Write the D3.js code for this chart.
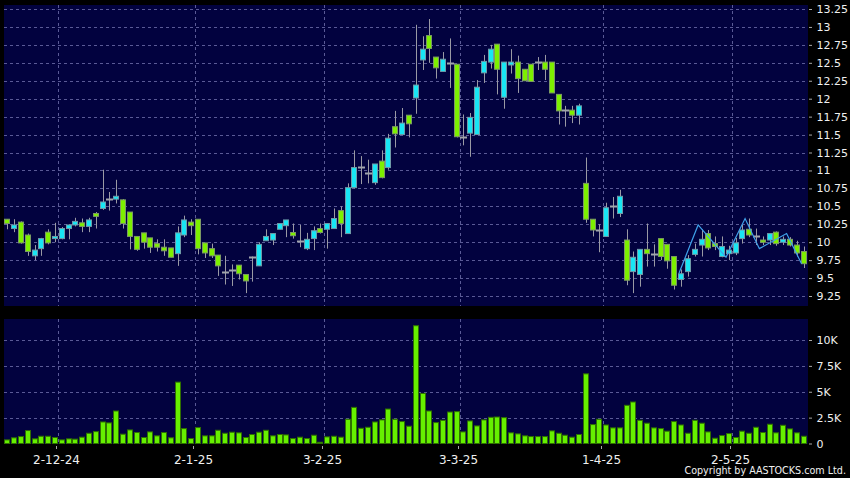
<!DOCTYPE html>
<html><head><meta charset="utf-8">
<script src="https://cdn.jsdelivr.net/npm/d3@7"></script>
<style>
html,body{margin:0;padding:0;background:#000;}
svg{display:block;}
text{font-family:"DejaVu Sans",Verdana,sans-serif;fill:#f0f0f0;}
</style></head>
<body>
<svg id="chart" width="850" height="478"></svg>
<script>
// ---- data ----
const dates = [
 "2024-11-20","2024-11-21","2024-11-22","2024-11-25","2024-11-26","2024-11-27","2024-11-28","2024-11-29",
 "2024-12-02","2024-12-03","2024-12-04","2024-12-05","2024-12-06","2024-12-09","2024-12-10","2024-12-11","2024-12-12","2024-12-13",
 "2024-12-16","2024-12-17","2024-12-18","2024-12-19","2024-12-20","2024-12-23","2024-12-24","2024-12-27","2024-12-30","2024-12-31",
 "2025-01-02","2025-01-03","2025-01-06","2025-01-07","2025-01-08","2025-01-09","2025-01-10","2025-01-13","2025-01-14","2025-01-15",
 "2025-01-16","2025-01-17","2025-01-20","2025-01-21","2025-01-22","2025-01-23","2025-01-24","2025-01-27","2025-01-28",
 "2025-02-03","2025-02-04","2025-02-05","2025-02-06","2025-02-07","2025-02-10","2025-02-11","2025-02-12","2025-02-13","2025-02-14",
 "2025-02-17","2025-02-18","2025-02-19","2025-02-20","2025-02-21","2025-02-24","2025-02-25","2025-02-26","2025-02-27","2025-02-28",
 "2025-03-03","2025-03-04","2025-03-05","2025-03-06","2025-03-07","2025-03-10","2025-03-11","2025-03-12","2025-03-13","2025-03-14",
 "2025-03-17","2025-03-18","2025-03-19","2025-03-20","2025-03-21","2025-03-24","2025-03-25","2025-03-26","2025-03-27","2025-03-28","2025-03-31",
 "2025-04-01","2025-04-02","2025-04-03","2025-04-07","2025-04-08","2025-04-09","2025-04-10","2025-04-11","2025-04-14","2025-04-15",
 "2025-04-16","2025-04-17","2025-04-22","2025-04-23","2025-04-24","2025-04-25","2025-04-28","2025-04-29","2025-04-30",
 "2025-05-02","2025-05-06","2025-05-07","2025-05-08","2025-05-09","2025-05-12","2025-05-13","2025-05-14","2025-05-15","2025-05-16","2025-05-19"
];
const open = [
 10.32,10.19,10.28,10.10,9.81,9.91,10.14,10.05,10.05,10.19,10.24,10.27,10.22,10.40,10.47,10.60,10.60,10.59,10.42,10.08,
 10.13,10.06,9.98,9.93,9.92,9.84,10.10,10.28,10.32,9.99,9.91,9.82,9.59,9.61,9.68,9.55,9.80,9.67,10.02,10.03,
 10.18,10.23,10.135,10.02,9.91,10.05,10.19,10.18,10.19,10.44,10.12,10.76,11.05,10.97,10.83,11.13,11.04,11.61,11.50,11.77,
 12.01,12.54,12.88,12.58,12.38,12.50,12.48,11.47,11.52,11.50,12.36,12.51,12.76,12.02,12.47,12.51,12.41,12.48,12.51,12.51,
 12.51,12.06,11.84,11.84,11.77,10.82,10.32,10.17,10.08,10.50,10.40,10.03,9.59,9.55,9.90,9.84,10.05,9.97,9.80,9.48,
 9.59,9.83,9.96,10.12,9.98,9.80,9.84,9.85,10.05,10.18,10.09,10.03,10.03,10.14,10.00,10.04,9.96,9.87
];
const high = [
 10.32,10.32,10.29,10.12,9.96,10.06,10.18,10.27,10.21,10.25,10.34,10.33,10.34,10.42,11.01,10.70,10.87,10.60,10.42,10.08,
 10.13,10.06,10.04,10.04,9.92,10.22,10.37,10.32,10.32,9.99,9.98,9.82,9.81,9.69,9.68,9.55,9.80,10.00,10.18,10.12,
 10.26,10.31,10.26,10.24,10.13,10.22,10.26,10.26,10.47,10.50,10.82,11.28,11.20,11.15,11.09,11.28,11.51,11.83,11.87,11.77,
 13.03,12.87,13.11,12.58,12.65,12.84,12.48,11.78,11.80,12.26,12.61,12.75,12.76,12.51,12.69,12.60,12.41,12.48,12.58,12.61,
 12.51,12.06,11.90,11.90,11.93,11.18,10.32,10.25,10.55,10.63,10.73,10.18,9.87,9.90,10.26,9.97,10.05,9.97,9.80,9.62,
 9.82,9.98,10.18,10.17,10.08,10.08,9.95,10.06,10.24,10.33,10.19,10.08,10.12,10.15,10.08,10.07,10.02,9.94
];
const low = [
 10.18,10.14,9.98,9.81,9.75,9.81,9.97,10.00,10.04,10.04,10.22,10.14,10.14,10.19,10.45,10.44,10.54,10.19,9.90,9.88,
 9.91,9.85,9.87,9.81,9.79,9.67,10.07,10.10,9.83,9.78,9.78,9.53,9.41,9.39,9.48,9.29,9.45,9.67,10.02,9.96,
 10.18,10.07,10.05,9.93,9.89,9.89,10.12,9.91,10.19,10.07,10.12,10.75,10.81,10.82,10.80,10.89,11.01,11.32,11.50,11.46,
 11.79,12.40,12.50,12.28,12.38,12.15,11.46,11.35,11.19,11.50,12.22,12.42,12.06,11.86,12.35,12.08,12.25,12.24,12.40,12.26,
 12.08,11.64,11.61,11.66,11.64,10.27,10.08,9.86,10.08,10.33,10.35,9.40,9.29,9.38,9.66,9.66,9.75,9.63,9.34,9.38,
 9.52,9.80,9.80,9.89,9.89,9.79,9.75,9.82,9.98,10.07,9.96,9.96,9.96,9.95,9.96,9.94,9.80,9.64
];
const close = [
 10.26,10.24,9.99,9.87,9.89,10.05,9.99,10.08,10.19,10.24,10.29,10.22,10.31,10.36,10.56,10.60,10.64,10.26,10.08,9.90,
 10.00,9.93,9.93,9.88,9.79,10.13,10.31,10.23,9.91,9.85,9.81,9.67,9.59,9.61,9.56,9.46,9.80,9.97,10.08,10.12,
 10.26,10.31,10.09,10.02,10.04,10.16,10.135,10.26,10.33,10.26,10.76,11.04,11.05,10.97,11.09,10.90,11.45,11.51,11.66,11.65,
 12.19,12.69,12.70,12.43,12.55,12.50,11.47,11.47,11.74,12.16,12.52,12.69,12.41,12.51,12.51,12.28,12.25,12.24,12.51,12.41,
 12.08,11.83,11.84,11.77,11.90,10.32,10.17,10.17,10.48,10.50,10.64,9.47,9.79,9.90,9.84,9.84,9.80,9.74,9.40,9.56,
 9.77,9.90,10.04,9.92,9.94,9.94,9.89,9.99,10.17,10.10,10.09,10.00,10.12,9.98,10.04,9.96,9.85,9.70
];
// volume in thousands of shares
const volume = [
 0.35,0.55,0.67,1.25,0.45,0.70,0.70,0.58,0.35,0.45,0.42,0.61,0.99,1.15,2.08,1.99,3.14,0.90,1.31,1.06,
 0.58,1.12,0.74,1.06,0.55,5.93,1.44,0.48,1.54,0.74,0.74,1.28,0.99,1.09,1.03,0.58,0.87,1.09,1.28,0.74,
 0.87,0.83,0.48,0.61,0.48,0.80,0.12,0.64,0.70,0.61,2.34,3.49,1.47,1.57,2.08,2.28,3.33,2.34,2.12,1.67,
 11.38,4.84,3.14,2.02,2.24,3.04,3.08,1.12,2.18,1.70,2.28,2.53,2.56,2.50,1.03,0.93,0.74,0.67,0.67,0.67,
 1.22,0.99,0.80,0.61,0.87,6.73,1.83,2.34,1.79,1.51,1.51,3.69,4.01,2.24,1.96,1.51,1.44,1.19,2.12,1.79,
 0.99,2.24,1.96,1.12,0.51,0.77,0.96,0.58,1.19,0.99,1.57,1.06,1.86,1.03,1.76,1.41,1.03,0.70
];
// overlay trend line (bar position, price)
const trendPos = [98.7, 101.5, 105.6, 108.4, 110.5, 114.5, 116.7];
const trendVal = [9.57, 10.24, 9.79, 10.33, 9.91, 10.12, 9.70];
const priceTicks = d3.range(9.25, 13.2501, 0.25);
const volTicks = [0, 2.5, 5, 7.5, 10];
const monthStarts = ["2024-12-02","2025-01-02","2025-02-03","2025-03-03","2025-04-01","2025-05-02"];

// ---- layout ----
const svg = d3.select("#chart");
const L = 4, R = 808;
const pTop = 5, pBot = 306, vTop = 319, vBot = 444;
const navy = "#02023f", gridC = "#5a5a96";

const x = d3.scaleBand().domain(dates).range([L, R - 1]).padding(0);
const xPos = d3.scaleLinear().domain([-0.5, dates.length - 0.5]).range([L, R - 1]);
const y = d3.scaleLinear().domain([9.25, 13.25]).range([296, 9]);
const yv = d3.scaleLinear().domain([0, 10]).range([vBot - 0.5, 340]);
const cx = d => x(d) + x.bandwidth() / 2;

svg.append("rect").attr("x", L).attr("y", pTop).attr("width", R - L).attr("height", pBot - pTop).attr("fill", navy);
svg.append("rect").attr("x", L).attr("y", vTop).attr("width", R - L).attr("height", vBot - vTop).attr("fill", navy);

const grid = svg.append("g").attr("stroke", gridC).attr("stroke-dasharray", "3,3").attr("stroke-width", 1);
grid.selectAll(".hp").data(priceTicks).join("line")
  .attr("x1", L).attr("x2", R).attr("y1", d => Math.round(y(d)) + 0.5).attr("y2", d => Math.round(y(d)) + 0.5);
grid.selectAll(".hv").data(volTicks.slice(1)).join("line").attr("class", "hv")
  .attr("x1", L).attr("x2", R).attr("y1", d => Math.round(yv(d)) + 0.5).attr("y2", d => Math.round(yv(d)) + 0.5);
grid.selectAll(".vp").data(monthStarts).join("line").attr("class", "vp")
  .attr("x1", d => Math.round(x(d)) + 0.5).attr("x2", d => Math.round(x(d)) + 0.5).attr("y1", pTop).attr("y2", pBot);
grid.selectAll(".vv").data(monthStarts).join("line").attr("class", "vv")
  .attr("x1", d => Math.round(x(d)) + 0.5).attr("x2", d => Math.round(x(d)) + 0.5).attr("y1", vTop).attr("y2", vBot);

// ---- candles ----
const candles = dates.map((d, i) => ({d, o: open[i], h: high[i], l: low[i], c: close[i]}));
const cg = svg.append("g");
cg.selectAll(".wick").data(candles).join("line").attr("class", "wick")
  .attr("x1", d => Math.round(cx(d.d)) + 0.5).attr("x2", d => Math.round(cx(d.d)) + 0.5)
  .attr("y1", d => y(d.h)).attr("y2", d => y(d.l))
  .attr("stroke", "#9a9aa4").attr("stroke-width", 1);
const bw = 5;
cg.selectAll(".body").data(candles.filter(d => d.o !== d.c)).join("rect").attr("class", "body")
  .attr("x", d => Math.round(cx(d.d)) - 2.5 + 0.5 - 0.5)
  .attr("y", d => y(Math.max(d.o, d.c)))
  .attr("width", bw)
  .attr("height", d => Math.max(1, Math.abs(y(d.o) - y(d.c))))
  .attr("fill", d => d.c > d.o ? "#18e6f4" : "#7df000")
  .attr("stroke", d => d.c > d.o ? "#6f9aa8" : "#7c9a64")
  .attr("stroke-width", 1);
cg.selectAll(".doji").data(candles.filter(d => d.o === d.c)).join("line").attr("class", "doji")
  .attr("x1", d => Math.round(cx(d.d)) - 3).attr("x2", d => Math.round(cx(d.d)) + 4)
  .attr("y1", d => Math.round(y(d.o)) + 0.5).attr("y2", d => Math.round(y(d.o)) + 0.5)
  .attr("stroke", "#a0a4ac").attr("stroke-width", 2);

// trend line
const trend = trendPos.map((p, i) => [p, trendVal[i]]);
svg.append("path").datum(trend)
  .attr("d", d3.line().x(d => xPos(d[0])).y(d => y(d[1])))
  .attr("fill", "none").attr("stroke", "#3fa2ea").attr("stroke-width", 1.2);

// ---- volume ----
svg.append("g").selectAll("rect").data(dates).join("rect")
  .attr("x", d => Math.round(cx(d)) - 2.5)
  .attr("y", (d, i) => yv(volume[i]))
  .attr("width", 5)
  .attr("height", (d, i) => Math.max(0, yv(0) - yv(volume[i])))
  .attr("fill", "#66f000").attr("stroke", "#2f7000").attr("stroke-width", 1);

// ---- axes ----
const fmtP = d3.format("~f");
const ay = svg.append("g").attr("transform", `translate(${R + 1},0)`)
  .call(d3.axisRight(y).tickValues(priceTicks).tickSize(3).tickPadding(4.5).tickFormat(d => fmtP(+d.toFixed(2))));
const av = svg.append("g").attr("transform", `translate(${R + 1},0)`)
  .call(d3.axisRight(yv).tickValues(volTicks).tickSize(3).tickPadding(4.5).tickFormat(d => d === 0 ? "0" : d + "K"));
const fmtD = d => { const t = new Date(d + "T00:00:00"); return `${t.getDate()}-${t.getMonth() + 1}-${String(t.getFullYear()).slice(2)}`; };
const ax = svg.append("g").attr("transform", `translate(0,${vBot + 2})`)
  .call(d3.axisBottom(x).tickValues(monthStarts).tickSize(3).tickPadding(6).tickFormat(fmtD));
ax.selectAll(".tick").attr("transform", d => `translate(${Math.round(x(d)) - 1.5},0)`);
[ay, av, ax].forEach(g => {
  g.select(".domain").remove();
  g.selectAll(".tick line").attr("stroke", "#a8a8a8");
  g.selectAll(".tick text").attr("fill", "#f0f0f0").style("font-family", "'DejaVu Sans',sans-serif");
});
ay.selectAll("text").style("font-size", "11px");
av.selectAll("text").style("font-size", "11px");
ax.selectAll("text").style("font-size", "12px");

svg.append("text").attr("x", 846).attr("y", 474).attr("text-anchor", "end")
  .style("font-size", "9.6px").text("Copyright by AASTOCKS.com Ltd.");
</script>
</body></html>
